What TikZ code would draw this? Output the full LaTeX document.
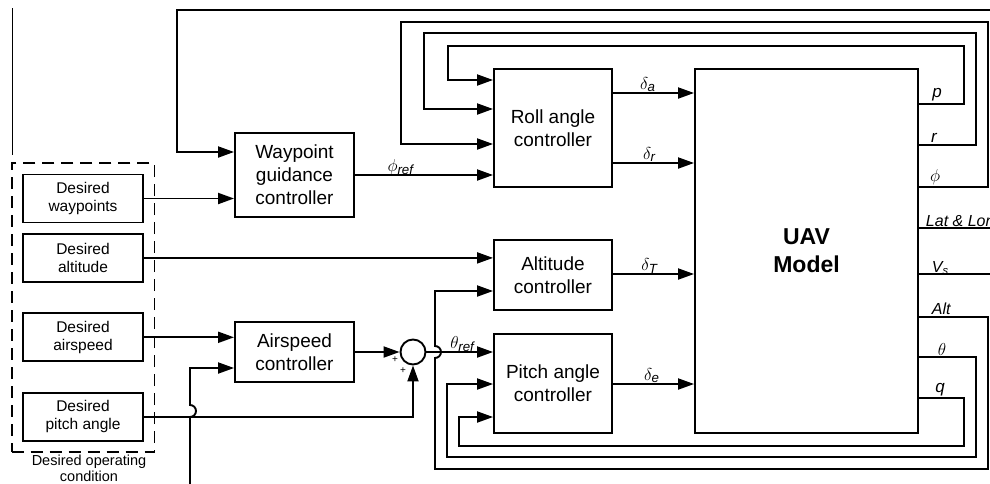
\documentclass[tikz,border=0pt]{standalone}
\usepackage{amsmath}
\usepackage{fontspec}
\setmainfont{Liberation Sans}
\usetikzlibrary{arrows.meta,positioning,fit}

\begin{document}
\begin{tikzpicture}[
  x=1pt,y=-1pt,
  line width=1.9pt,
  ctrl/.style={draw,align=center,inner sep=0pt,minimum width=119pt,font=\fontsize{19}{23}\selectfont},
  des/.style={draw,align=center,inner sep=0pt,minimum width=120pt,minimum height=48pt,font=\fontsize{15.5}{17.5}\selectfont},
  sumnode/.style={draw,circle,minimum size=25pt,inner sep=0pt},
  sig/.style={font=\fontsize{19}{21}\selectfont,inner sep=0pt,anchor=base,yshift=4pt},
  outlbl/.style={font=\fontsize{17}{19}\selectfont\itshape,inner sep=0pt,anchor=base},
  outmath/.style={font=\fontsize{19}{21}\selectfont,inner sep=0pt,anchor=base},
  txtlbl/.style={font=\fontsize{16}{18}\selectfont\itshape,inner sep=0pt,anchor=base west},
  ar/.style={-{Triangle[length=16pt,width=11pt]}}
]
\useasboundingbox (0,0) rectangle (990,483);
\clip (0,0) rectangle (990,483);

% ---- desired operating condition
\node[des] (dwp) at (83,198.5) {Desired\\waypoints};
\node[des,below=9.5pt of dwp] (dalt) {Desired\\altitude};
\node[des,below=29.5pt of dalt] (daspd) {Desired\\airspeed};
\node[des,below=29.5pt of daspd] (dpitch) {Desired\\pitch angle};
\node[draw,dashed,dash pattern=on 12pt off 7pt,fit=(dwp)(dpitch),inner xsep=10.5pt,inner ysep=10.5pt] (doc) {};
\node[font=\fontsize{14.5}{15.5}\selectfont,align=center,below=1pt of doc.south,xshift=6pt,inner sep=0pt] (doclbl) {Desired operating\\condition};

% ---- controllers
\node[ctrl,minimum height=84pt] (wp) at (294.5,175) {Waypoint\\guidance\\controller};
\node[ctrl,minimum height=60pt] (asp) at (294.5,352) {Airspeed\\controller};
\node[sumnode] (sum) at (413,352) {};
\node[font=\fontsize{10}{10}\selectfont,inner sep=0pt] (plus1) at (395,360) {+};
\node[font=\fontsize{10}{10}\selectfont,inner sep=0pt] (plus2) at (403,371) {+};
\node[ctrl,minimum width=118pt,minimum height=118pt] (roll) at (553,128) {Roll angle\\controller};
\node[ctrl,minimum width=118pt,minimum height=70pt] (alt) at (553,275) {Altitude\\controller};
\node[ctrl,minimum width=118pt,minimum height=99pt] (pitch) at (553,383.5) {Pitch angle\\controller};
\node[draw,minimum width=223pt,minimum height=364pt,align=center,font=\fontsize{23}{28}\selectfont\bfseries] (uav) at (806.5,251) {UAV\\Model};

% ---- free ends
\coordinate (lefttop) at (12.5,8);
\coordinate (leftbot) at (12.5,155);
\coordinate (topR) at (995,10);
\coordinate (latR) at (995,228);
\coordinate (vsR) at (995,274);
\coordinate (aspBot) at (190,490);

\draw (lefttop) -- (leftbot);
\draw[ar] (topR) -| (177,152) -- (wp.west |- 0,152);

% ---- references
\draw[ar] (dwp.east) -- (wp.west |- dwp.east);
\draw[ar] (dalt.east) -- (alt.west |- dalt.east);
\draw[ar] (daspd.east) -- (asp.west |- daspd.east);
\draw[ar] (aspBot) -- (190,417) arc[start angle=-90,end angle=90,radius=6pt] |- (asp.west |- 0,368);
\draw[ar] (dpitch.east) -| (sum.south);
\draw[ar] (asp.east) -- (sum.west);
\draw[ar] (wp.east) -- node[sig,pos=.33] (lphi) {$\phi_{\textit{ref}}$} (roll.west |- wp.east);
\draw[ar] (sum.east) -- node[sig,pos=.54] (ltheta) {$\theta_{\textit{ref}}$} (pitch.west |- sum.east);

% ---- control inputs
\draw[ar] (roll.east |- 0,93) -- node[sig,pos=.43] (lda) {$\delta_{\textit{a}}$} (uav.west |- 0,93);
\draw[ar] (roll.east |- 0,163) -- node[sig,pos=.45] (ldr) {$\delta_{\textit{r}}$} (uav.west |- 0,163);
\draw[ar] (alt.east |- 0,274) -- node[sig,pos=.45] (ldt) {$\delta_{\textit{T}}$} (uav.west |- 0,274);
\draw[ar] (pitch.east |- 0,384) -- node[sig,pos=.48] (lde) {$\delta_{\textit{e}}$} (uav.west |- 0,384);

% ---- feedback
\draw[ar] (uav.east |- 0,104) -| (964,46) -| (448,80) -- (roll.west |- 0,80);
\draw[ar] (uav.east |- 0,145) -| (976,33) -| (424,109) -- (roll.west |- 0,109);
\draw[ar] (uav.east |- 0,187) -| (988,22) -| (401,144) -- (roll.west |- 0,144);
\draw (uav.east |- latR) -- (latR);
\draw (uav.east |- vsR) -- (vsR);
\draw[ar] (uav.east |- 0,317) -| (988,469) -| (435,358) arc[start angle=-90,end angle=90,radius=6pt] |- (alt.west |- 0,291);
\draw[ar] (uav.east |- 0,357) -| (976,457) -| (447,384) -- (pitch.west |- 0,384);
\draw[ar] (uav.east |- 0,398) -| (964,446) -| (459,417) -- (pitch.west |- 0,417);

% ---- output labels
\node[outlbl] (lp) at (937,97) {p};
\node[outlbl] (lr) at (934,142) {r};
\node[outmath] (lphiout) at (935,181) {$\phi$};
\node[txtlbl] (llat) at (925,226) {Lat \& Lon};
\node[txtlbl] (lvs) at (931,272) {V$_{\textit{s}}$};
\node[txtlbl] (lalt) at (931,314) {Alt};
\node[outmath] (lthout) at (942,355) {$\theta$};
\node[outlbl] (lq) at (940,392) {q};
\end{tikzpicture}
\end{document}
